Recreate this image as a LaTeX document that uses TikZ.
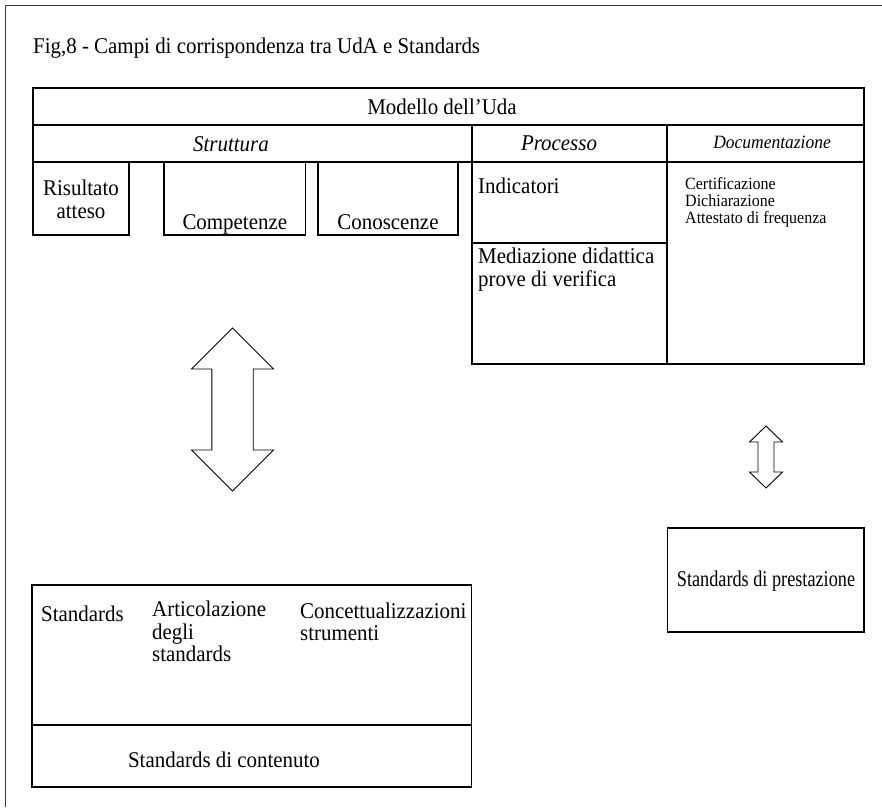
\documentclass[tikz,border=0pt]{standalone}
\usepackage{fontspec}
\setmainfont[FakeStretch=0.93]{Liberation Serif}
\newfontfamily\narrowserif[FakeStretch=0.81]{Liberation Serif}
\usetikzlibrary{positioning}
\definecolor{framec}{HTML}{3A3A3A}
\tikzset{
  rule/.style={line width=1.1pt,black},
  txt/.style={inner sep=0pt,font=\fontsize{22.5}{23}\selectfont},
  smalltxt/.style={inner sep=0pt,font=\fontsize{17.2}{17}\selectfont}
}
% block arrow with two heads: x, y of upper tip, y of lower tip, head half width, head length, shaft half width
\newcommand{\dblarrow}[6]{\draw[rule,line width=0.9pt,fill=white] (#1,#2) -- (#1+#4,#2+#5) -- (#1+#6,#2+#5) -- (#1+#6,#3-#5)
  -- (#1+#4,#3-#5) -- (#1,#3) -- (#1-#4,#3-#5) -- (#1-#6,#3-#5) -- (#1-#6,#2+#5) -- (#1-#4,#2+#5) -- cycle;}

\begin{document}
\begin{tikzpicture}[x=1pt,y=-1pt]
\useasboundingbox (0,0) rectangle (882,807);
\draw[line width=1.1pt,framec] (5.7,807) -- (5.7,5.7) -- (882,5.7);
\node[txt,anchor=base west] (title) at (33,53) {Fig,8 - Campi di corrispondenza tra UdA e Standards};
% upper table
\draw[rule] (33,88) rectangle (864,125);
\draw[rule] (33,125) rectangle (864,162);
\draw[rule] (472,125) -- (472,364) -- (864,364) -- (864,162);
\draw[rule] (667,125) -- (667,364);
\draw[rule] (472,243) -- (667,243);
\draw[rule] (33,162) rectangle (129,235);
\draw[rule] (164,162) rectangle (305.5,235);
\draw[rule] (318,162) rectangle (458,235);
\node[txt,anchor=base] (modello) at (442,114) {Modello dell’Uda};
\node[txt,anchor=base,font=\fontsize{22.5}{23}\selectfont\itshape] (struttura) at (231,151) {Struttura};
\node[txt,anchor=base,font=\fontsize{22.5}{23}\selectfont\itshape] (processo) at (559,150) {Processo};
\node[smalltxt,anchor=base,font=\fontsize{18.8}{19}\selectfont\itshape] (docum) at (772,148) {Documentazione};
% base of a node with several lines = its last line
\node[txt,anchor=base,align=center] (risultato) at (81,218) {Risultato\\atteso};
\node[txt,anchor=base] (compet) at (234.8,229) {Competenze};
\node[txt,anchor=base] (conosc) at (388,229) {Conoscenze};
\node[txt,anchor=base west] (indic) at (478,193) {Indicatori};
\node[txt,anchor=base west,align=left] (mediaz) at (478,286) {Mediazione didattica\\prove di verifica};
\node[smalltxt,anchor=base west,align=left] (certif) at (685,223) {Certificazione\\Dichiarazione\\Attestato di frequenza};
% arrows
\dblarrow{232.5}{328}{491}{41}{41}{20.7}
\dblarrow{766}{426}{488}{16.5}{16}{8}
% lower boxes
\draw[rule] (32,585) rectangle (471.6,787);
\draw[rule] (32,725) -- (471.6,725);
\draw[rule] (667.5,528) rectangle (864,632);
\node[txt,anchor=base west] (standards) at (41,621) {Standards};
\node[txt,anchor=base west,align=left,font=\fontsize{22.5}{22.5}\selectfont] (articol) at (152,661.7) {Articolazione\\degli\\standards};
\node[txt,anchor=base west,align=left,font=\fontsize{22.5}{22}\selectfont] (concett) at (300,640) {Concettualizzazioni\\strumenti};
\node[txt,anchor=base] (contenuto) at (224,767) {Standards di contenuto};
\node[txt,anchor=base,font=\fontsize{22.5}{23}\narrowserif] (prestaz) at (766,586) {Standards di prestazione};
\end{tikzpicture}
\end{document}
